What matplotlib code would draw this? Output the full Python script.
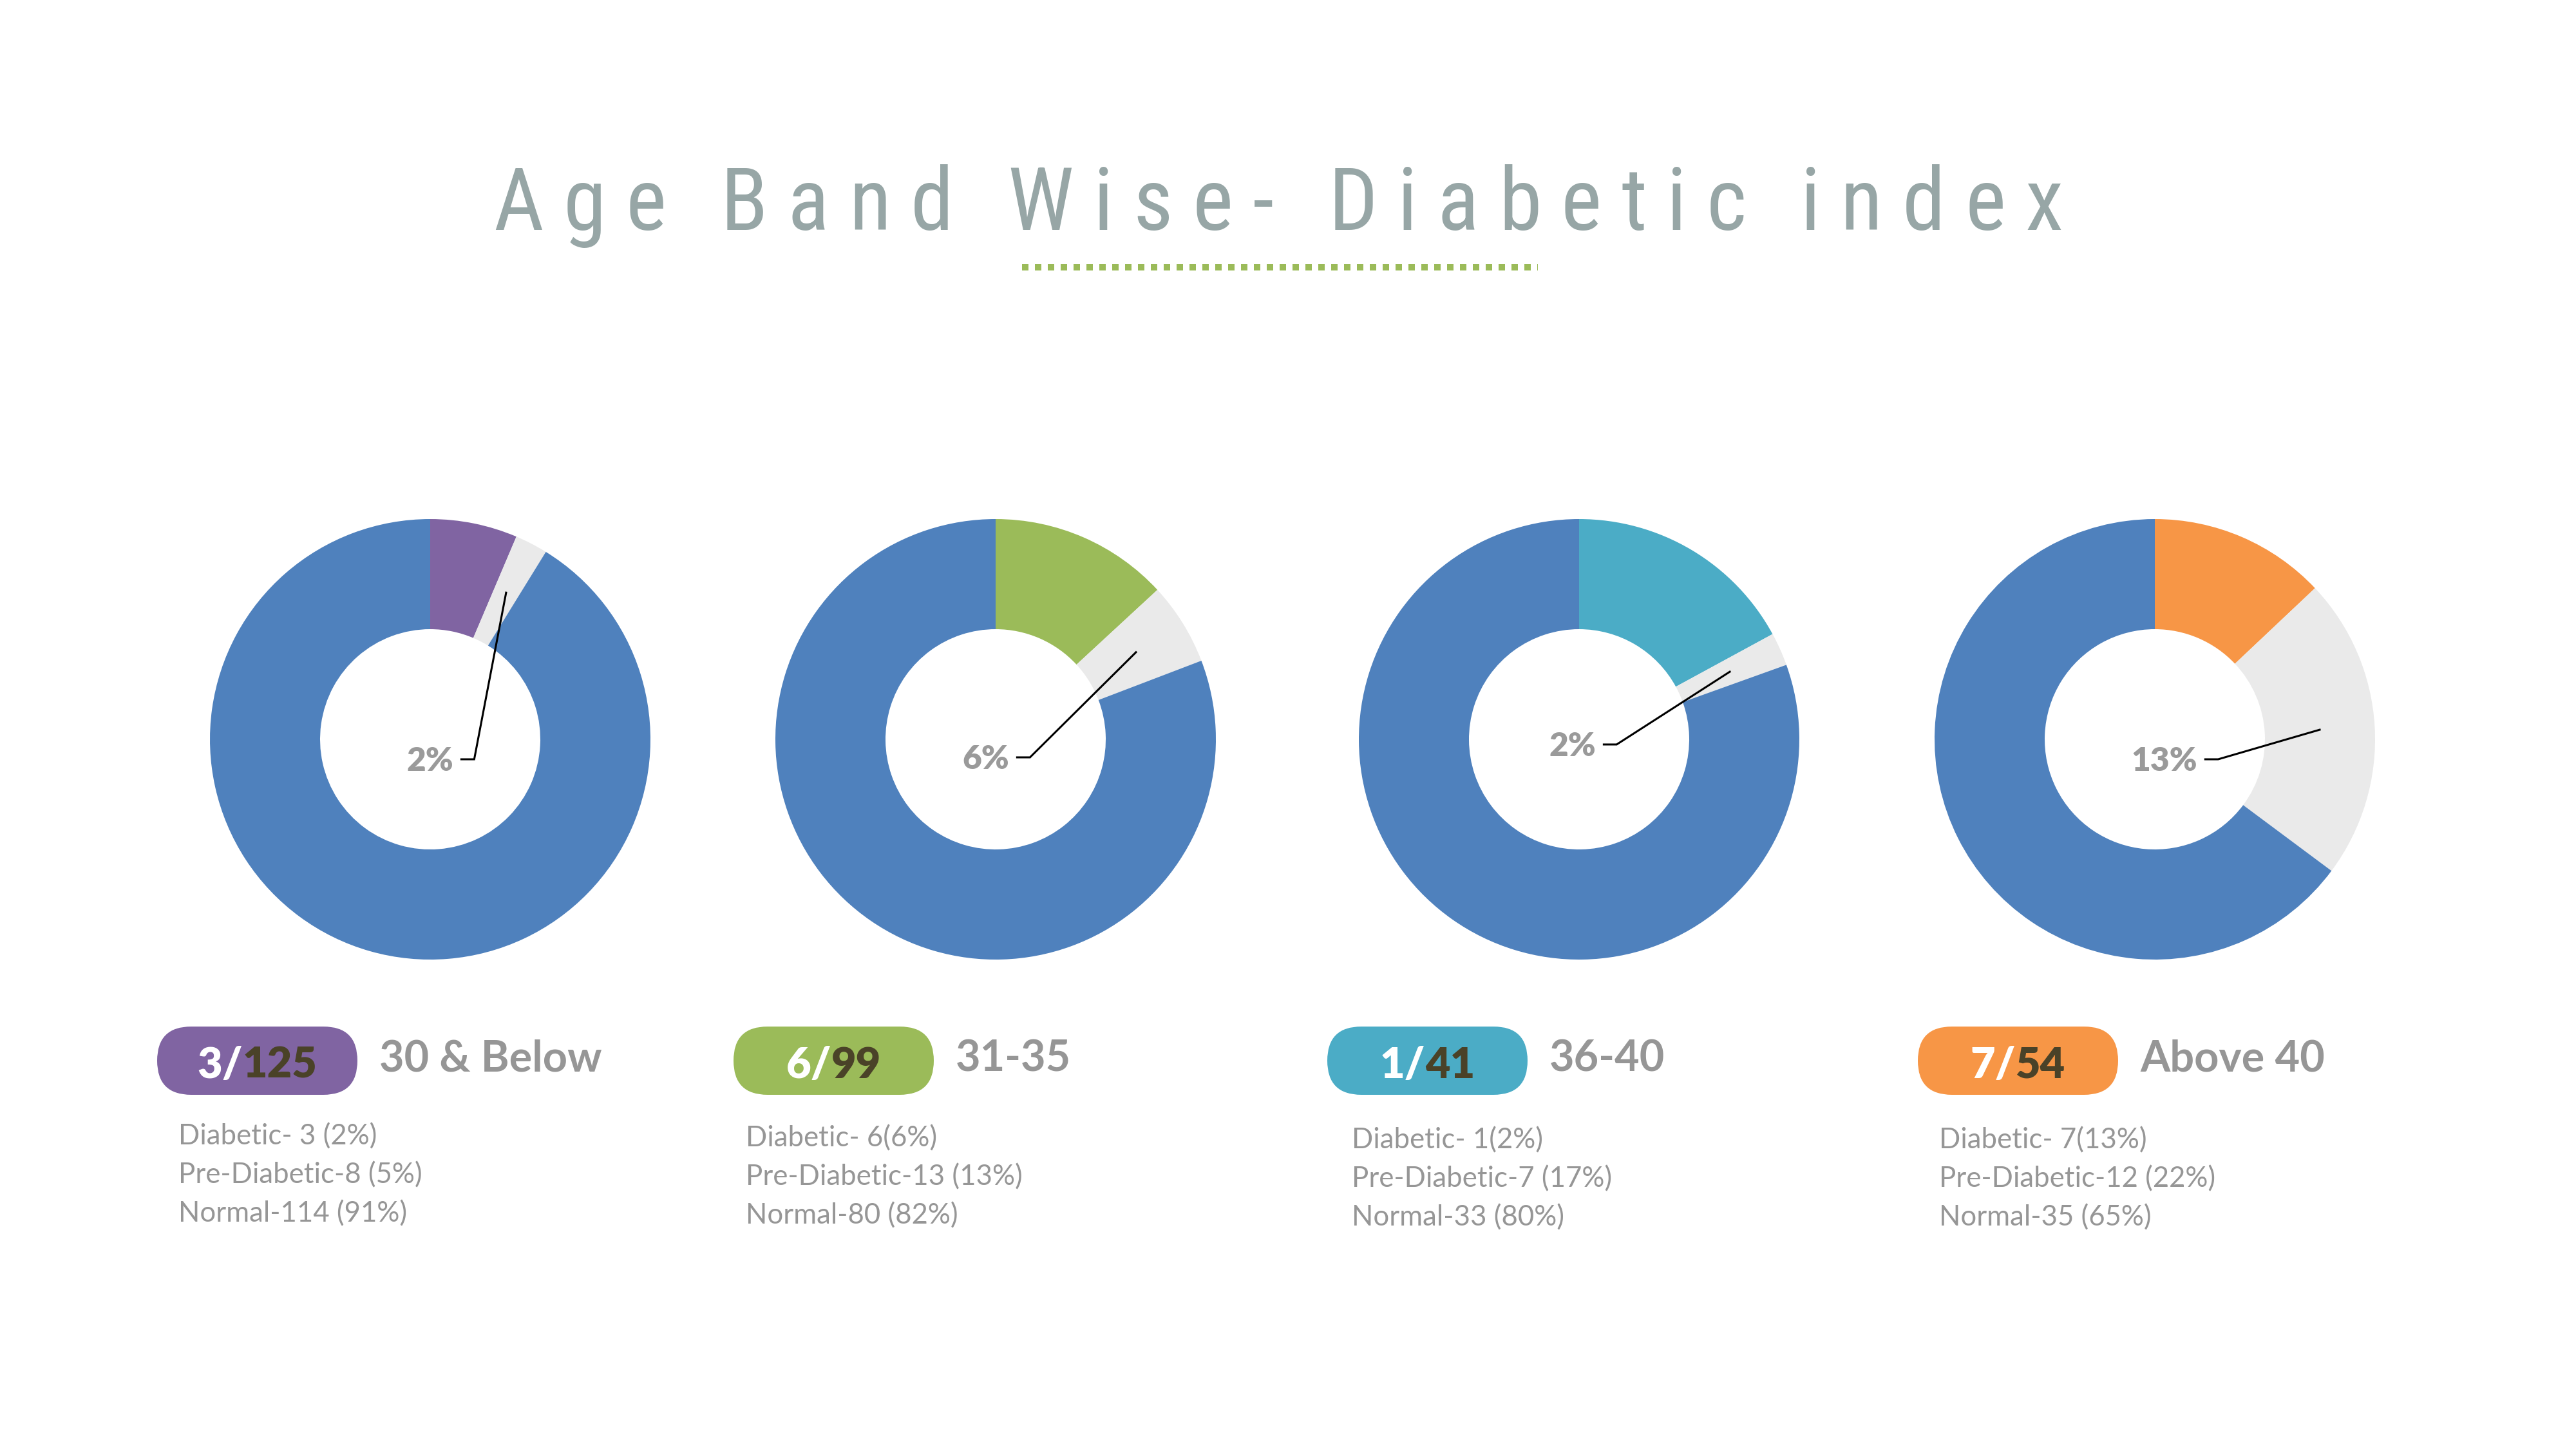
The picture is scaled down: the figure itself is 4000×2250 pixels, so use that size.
import matplotlib
matplotlib.use('Agg')
import matplotlib.pyplot as plt
from matplotlib.patches import FancyBboxPatch
import numpy as np

# ---- data ----
age_bands = ['30 & Below', '31-35', '36-40', 'Above 40']
diabetic = [3, 6, 1, 7]
totals = [125, 99, 41, 54]
# slices as drawn: coloured slice first (clockwise from top), then grey, then blue
accent_slice = [8, 13, 7, 7]
grey_slice = [3, 6, 1, 12]
blue_slice = [114, 80, 33, 35]
center_labels = ['2%', '6%', '2%', '13%']
desc_lines = [
    ['Diabetic- 3 (2%)', 'Pre-Diabetic-8 (5%)', 'Normal-114 (91%)'],
    ['Diabetic- 6(6%)', 'Pre-Diabetic-13 (13%)', 'Normal-80 (82%)'],
    ['Diabetic- 1(2%)', 'Pre-Diabetic-7 (17%)', 'Normal-33 (80%)'],
    ['Diabetic- 7(13%)', 'Pre-Diabetic-12 (22%)', 'Normal-35 (65%)'],
]
title = 'Age Band Wise- Diabetic index'

# ---- styling / layout ----
accent_colors = ['#8064A2', '#9BBB59', '#4BACC6', '#F79646']
blue = '#4F81BD'
grey = '#EAEAEA'
text_grey = '#969696'
dark = '#4A4228'
title_color = '#97A6A6'
body_font = ['Lato', 'DejaVu Sans']
title_font = ['Liberation Sans Narrow', 'Roboto Condensed', 'Lato', 'DejaVu Sans']

W, H = 4000, 2250
centers_x = [668, 1546, 2452, 3346]
cy = 1148
R = 342
box = 400
label_off = [(0, 31), (-15, 28), (-10, 8), (15, 31)]
badge_x = [244, 1139, 2061, 2978]
badge_w = 311
badge_y, badge_h = 1594, 106
desc_x = [277, 1158, 2099, 3011]
desc_base = [1777, 1780, 1783, 1783]

fig = plt.figure(figsize=(40, 22.5), dpi=100)
fig.patch.set_facecolor('white')
over = fig.add_axes([0, 0, 1, 1])
over.set_xlim(0, W)
over.set_ylim(H, 0)
over.axis('off')
renderer = fig.canvas.get_renderer()

# title with wide letter spacing
title_x0, title_x1, title_base = 766, 3204, 357
chars = []
for ch in title:
    if ch == ' ':
        chars.append((None, 0))
        continue
    t = over.text(0, title_base, ch, fontsize=97, color=title_color,
                  ha='left', va='baseline', family=title_font)
    chars.append((t, t.get_window_extent(renderer).width))
space_w = 22
n_sp = title.count(' ')
ink = sum(w for t, w in chars)
track = (title_x1 - title_x0 - ink - n_sp * space_w) / (len(title) - 1)
x = title_x0
for t, w in chars:
    if t is None:
        x += space_w + track
    else:
        t.set_x(x)
        x += w + track

over.plot([1587, 2388], [415, 415], color='#9BBB59', lw=7.2,
          linestyle=(0, (1, 1)), dash_capstyle='butt')

for i in range(4):
    cx = centers_x[i]
    ax = fig.add_axes([(cx - box) / W, (H - cy - box) / H, 2 * box / W, 2 * box / H])
    r = R / box
    vals = [accent_slice[i], grey_slice[i], blue_slice[i]]
    ax.pie(vals, colors=[accent_colors[i], grey, blue], startangle=90,
           counterclock=False, radius=r,
           wedgeprops=dict(width=r * 0.5, linewidth=0))
    ax.set_xlim(-1, 1)
    ax.set_ylim(-1, 1)
    ax.set_aspect('equal')
    ax.axis('off')

    # percentage label with leader line into the grey slice
    tot = sum(vals)
    a0 = 90 - 360 * accent_slice[i] / tot
    amid = np.radians(a0 - 180 * grey_slice[i] / tot)
    rm = 0.75 * r
    ex, ey = rm * np.cos(amid), rm * np.sin(amid)
    ox, oy = label_off[i]
    t = ax.text(ox / box, -(oy + 18) / box, center_labels[i], ha='center',
                va='baseline', fontsize=37, fontweight='heavy', color='#9A9A9A',
                family=body_font)
    bb = t.get_window_extent(renderer)
    x_right = ax.transData.inverted().transform((bb.x1, bb.y0))[0]
    lx0 = x_right + 12 / box
    lx1 = lx0 + 20 / box
    ly = -oy / box
    ax.plot([lx0, lx1, ex], [ly, ly, ey], color='black', lw=2.2,
            solid_joinstyle='miter')

    # badge
    bx = badge_x[i]
    over.add_patch(FancyBboxPatch((bx, badge_y), badge_w, badge_h,
                                  boxstyle='round,pad=0,rounding_size=53',
                                  facecolor=accent_colors[i], edgecolor='none'))
    parts = [(f'{diabetic[i]}/', 'white'), (f'{totals[i]}', dark)]
    txts = []
    for s, c in parts:
        tt = over.text(0, 1674, s, fontsize=48, fontweight='heavy', color=c,
                       ha='left', va='baseline', family=body_font)
        txts.append((tt, tt.get_window_extent(renderer).width))
    total_w = sum(w for _, w in txts)
    x = bx + badge_w / 2 - total_w / 2
    for tt, w in txts:
        tt.set_x(x)
        x += w

    over.text(bx + badge_w + 34, 1663, age_bands[i], fontsize=48,
              fontweight='bold', color=text_grey, ha='left', va='baseline',
              family=body_font)

    for k, line in enumerate(desc_lines[i]):
        over.text(desc_x[i], desc_base[i] + 60 * k, line, fontsize=31.5,
                  color=text_grey, ha='left', va='baseline', family=body_font)

fig.savefig('out.png', dpi=100, facecolor='white')
